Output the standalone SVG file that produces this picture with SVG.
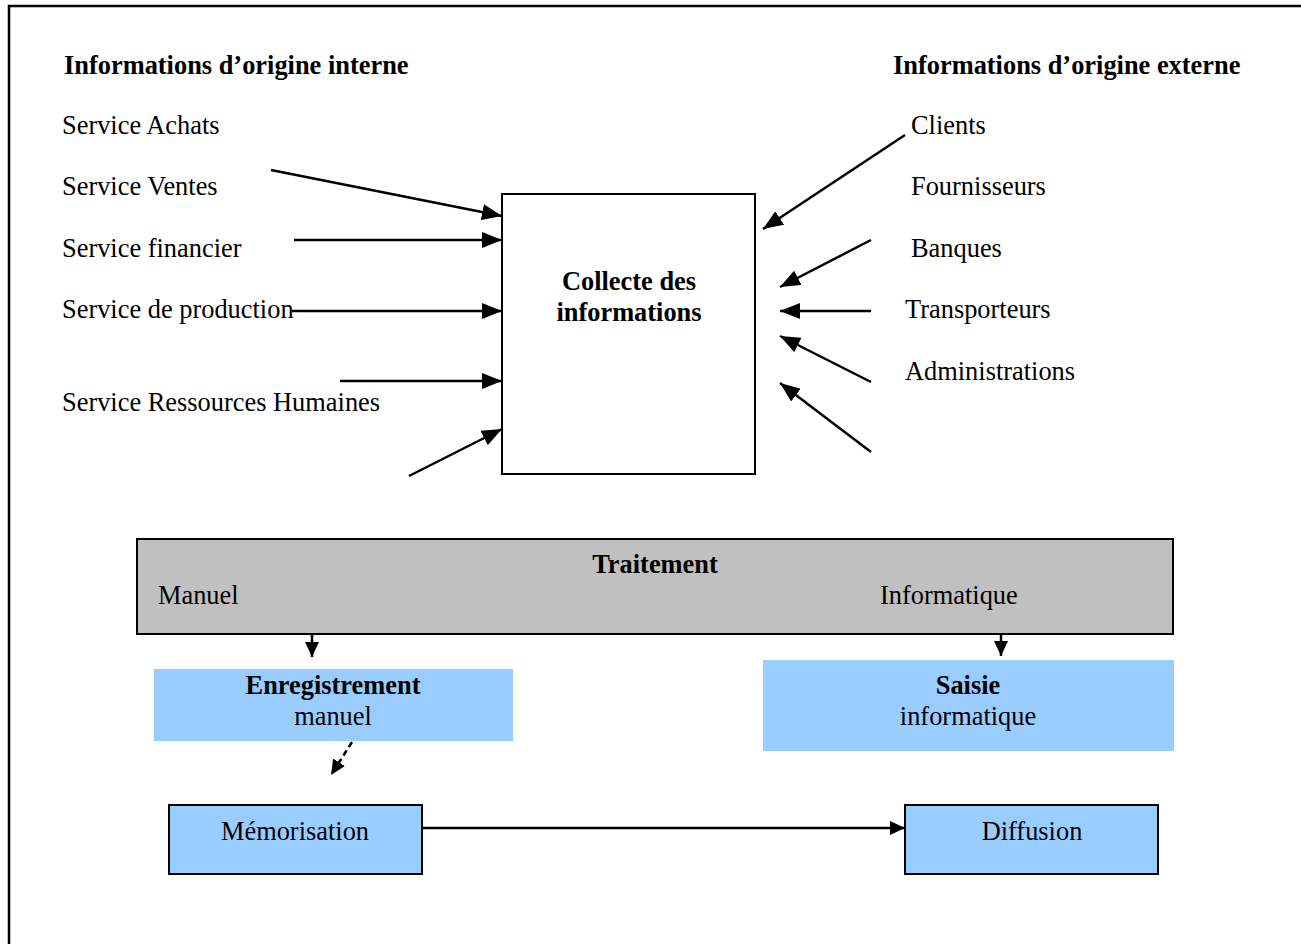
<svg xmlns="http://www.w3.org/2000/svg" width="1301" height="944" viewBox="0 0 1301 944">
<style>
text{font-family:"Liberation Serif","Times New Roman",serif;font-size:26.4px;fill:#000}
.b{font-weight:bold}
.c{text-anchor:middle}
.ln{stroke:#000;stroke-width:2.5;fill:none}
.blue{fill:#99ccff}
</style>
<defs>
<marker id="ah" markerUnits="userSpaceOnUse" markerWidth="20" markerHeight="16" refX="20" refY="8" orient="auto">
<path d="M0,0 L20,8 L0,16 Z" fill="#000"/>
</marker>
<marker id="ahs" markerUnits="userSpaceOnUse" markerWidth="15" markerHeight="14" refX="15" refY="7" orient="auto">
<path d="M0,0 L15,7 L0,14 Z" fill="#000"/>
</marker>
</defs>
<rect width="1301" height="944" fill="#fff"/>
<g id="frame">
<path d="M1301,6 L9,6 L9,944" stroke="#000" stroke-width="2.5" fill="none"/>
</g>
<g id="labels-internal">
<text x="64" y="74" class="b">Informations d’origine interne</text>
<text x="62" y="134">Service Achats</text>
<text x="62" y="195">Service Ventes</text>
<text x="62" y="257">Service financier</text>
<text x="62" y="318">Service de production</text>
<text x="62" y="411">Service Ressources Humaines</text>
</g>
<g id="labels-external">
<text x="893" y="74" class="b">Informations d’origine externe</text>
<text x="911" y="134">Clients</text>
<text x="911" y="195">Fournisseurs</text>
<text x="911" y="257">Banques</text>
<text x="905" y="318">Transporteurs</text>
<text x="905" y="380">Administrations</text>
</g>
<g id="collecte">
<rect x="502" y="194" width="253" height="280" fill="#fff" stroke="#000" stroke-width="2"/>
<text x="629" y="290" class="b c">Collecte des</text>
<text x="629" y="321" class="b c">informations</text>
</g>
<g id="traitement">
<rect x="137" y="539" width="1036" height="95" fill="#c0c0c0" stroke="#000" stroke-width="2"/>
<text x="655" y="573" class="b c">Traitement</text>
<text x="158" y="604">Manuel</text>
<text x="880" y="604">Informatique</text>
</g>
<g id="enregistrement">
<rect x="154" y="669" width="359" height="72" class="blue"/>
<text x="333" y="694" class="b c">Enregistrement</text>
<text x="333" y="725" class="c">manuel</text>
</g>
<g id="saisie">
<rect x="763" y="660" width="411" height="91" class="blue"/>
<text x="968" y="694" class="b c">Saisie</text>
<text x="968" y="725" class="c">informatique</text>
</g>
<g id="memorisation">
<rect x="169" y="805" width="253" height="69" class="blue" stroke="#000" stroke-width="2"/>
<text x="295" y="840" class="c">Mémorisation</text>
</g>
<g id="diffusion">
<rect x="905" y="805" width="253" height="69" class="blue" stroke="#000" stroke-width="2"/>
<text x="1032" y="840" class="c">Diffusion</text>
</g>
<g id="connectors">
<line x1="271" y1="170" x2="502" y2="216" class="ln" marker-end="url(#ah)"/>
<line x1="294" y1="240" x2="502" y2="240" class="ln" marker-end="url(#ah)"/>
<line x1="292" y1="311" x2="502" y2="311" class="ln" marker-end="url(#ah)"/>
<line x1="340" y1="381" x2="502" y2="381" class="ln" marker-end="url(#ah)"/>
<line x1="409" y1="476" x2="502" y2="429" class="ln" marker-end="url(#ah)"/>
<line x1="905" y1="135" x2="763" y2="229" class="ln" marker-end="url(#ah)"/>
<line x1="871" y1="240" x2="780" y2="287" class="ln" marker-end="url(#ah)"/>
<line x1="871" y1="311" x2="780" y2="311" class="ln" marker-end="url(#ah)"/>
<line x1="871" y1="382" x2="780" y2="336" class="ln" marker-end="url(#ah)"/>
<line x1="871" y1="452" x2="780" y2="383" class="ln" marker-end="url(#ah)"/>
<line x1="312" y1="634" x2="312" y2="657" class="ln" marker-end="url(#ahs)"/>
<line x1="1001" y1="634" x2="1001" y2="656" class="ln" marker-end="url(#ahs)"/>
<line x1="352" y1="742" x2="331" y2="775" class="ln" stroke-dasharray="6,4" marker-end="url(#ahs)"/>
<line x1="422" y1="828" x2="905" y2="828" class="ln" marker-end="url(#ahs)"/>
</g>
</svg>
